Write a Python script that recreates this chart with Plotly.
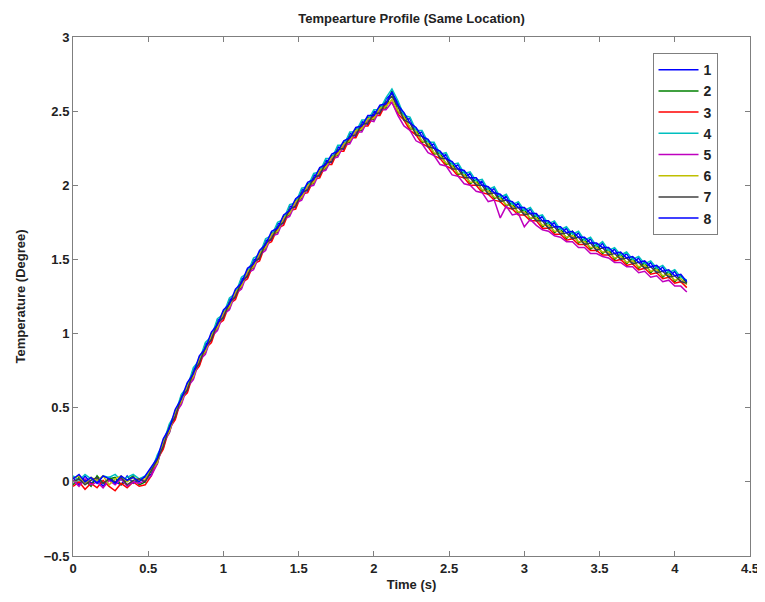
import plotly.graph_objects as go

# time axis (s), sampled every 0.04 s
time_s = [round(i * 0.04, 2) for i in range(103)]

series_names = ["1", "2", "3", "4", "5", "6", "7", "8"]
series_colors = ["rgb(0,0,255)", "rgb(0,128,0)", "rgb(255,0,0)", "rgb(0,191,191)",
                 "rgb(191,0,191)", "rgb(191,191,0)", "rgb(64,64,64)", "rgb(0,0,255)"]

temp_1 = [0.03, -0.02, 0.04, -0.01, 0.02, -0.03, 0.03, 0.00, -0.02, 0.04, -0.01, 0.02,
          0.03, 0.05, 0.17, 0.23, 0.38, 0.43, 0.58, 0.61, 0.76, 0.79, 0.93, 0.95, 1.09, 1.10,
          1.23, 1.24, 1.37, 1.38, 1.50, 1.50, 1.63, 1.63, 1.74, 1.74, 1.86, 1.85, 1.97,
          1.96, 2.07, 2.06, 2.17, 2.15, 2.26, 2.24, 2.35, 2.33, 2.43, 2.41, 2.50, 2.48, 2.58, 2.62,
          2.56, 2.44, 2.45, 2.34, 2.36, 2.26, 2.28, 2.18, 2.21, 2.11, 2.14, 2.05, 2.08,
          2.00, 2.03, 1.94, 1.98, 1.89, 1.93, 1.84, 1.88, 1.80, 1.84, 1.76, 1.79, 1.71,
          1.75, 1.67, 1.71, 1.64, 1.68, 1.60, 1.64, 1.56, 1.61, 1.53, 1.57, 1.50, 1.54,
          1.47, 1.51, 1.44, 1.48, 1.41, 1.45, 1.38, 1.42, 1.35, 1.36]
temp_2 = [-0.02, 0.03, 0.01, -0.03, 0.04, -0.01, 0.02, 0.03, -0.02, 0.01, 0.04, -0.02,
          0.00, 0.09, 0.12, 0.28, 0.33, 0.48, 0.53, 0.66, 0.70, 0.84, 0.87, 1.00, 1.03, 1.15,
          1.17, 1.29, 1.31, 1.43, 1.44, 1.55, 1.57, 1.68, 1.68, 1.79, 1.80, 1.90, 1.91,
          2.01, 2.01, 2.11, 2.11, 2.20, 2.20, 2.29, 2.29, 2.38, 2.37, 2.46, 2.44, 2.53, 2.52, 2.64,
          2.49, 2.48, 2.38, 2.38, 2.29, 2.30, 2.21, 2.22, 2.14, 2.15, 2.07, 2.09, 2.01,
          2.04, 1.96, 1.98, 1.91, 1.93, 1.86, 1.88, 1.81, 1.84, 1.77, 1.80, 1.72, 1.75,
          1.68, 1.71, 1.64, 1.69, 1.61, 1.64, 1.57, 1.60, 1.54, 1.57, 1.50, 1.54, 1.47,
          1.51, 1.44, 1.48, 1.41, 1.45, 1.38, 1.42, 1.35, 1.39, 1.34]
temp_3 = [-0.03, 0.00, -0.05, -0.01, -0.04, 0.01, -0.03, -0.06, -0.01, -0.04, 0.00, -0.03,
          -0.02, 0.04, 0.15, 0.22, 0.36, 0.42, 0.56, 0.60, 0.73, 0.78, 0.90, 0.94, 1.06, 1.09,
          1.20, 1.23, 1.34, 1.37, 1.47, 1.49, 1.60, 1.62, 1.71, 1.73, 1.83, 1.84, 1.94,
          1.95, 2.04, 2.05, 2.14, 2.14, 2.23, 2.23, 2.32, 2.32, 2.40, 2.40, 2.47, 2.47, 2.55, 2.56,
          2.48, 2.44, 2.37, 2.34, 2.28, 2.26, 2.20, 2.18, 2.13, 2.11, 2.06, 2.05, 2.00,
          2.00, 1.95, 1.94, 1.90, 1.89, 1.85, 1.84, 1.80, 1.80, 1.76, 1.76, 1.71, 1.71,
          1.67, 1.67, 1.63, 1.64, 1.60, 1.60, 1.56, 1.56, 1.53, 1.53, 1.49, 1.50, 1.46,
          1.47, 1.43, 1.44, 1.40, 1.41, 1.37, 1.38, 1.34, 1.35, 1.31]
temp_4 = [0.04, 0.01, 0.05, 0.02, 0.00, 0.04, 0.03, 0.05, 0.01, 0.03, 0.05, 0.02,
          0.04, 0.07, 0.18, 0.26, 0.39, 0.46, 0.59, 0.64, 0.77, 0.82, 0.94, 0.98, 1.10, 1.13,
          1.24, 1.27, 1.38, 1.41, 1.51, 1.53, 1.64, 1.66, 1.75, 1.77, 1.87, 1.88, 1.98,
          1.99, 2.08, 2.09, 2.18, 2.18, 2.27, 2.27, 2.36, 2.36, 2.44, 2.44, 2.51, 2.51, 2.59, 2.65,
          2.57, 2.47, 2.46, 2.37, 2.37, 2.29, 2.29, 2.21, 2.22, 2.14, 2.15, 2.08, 2.09,
          2.03, 2.04, 1.97, 1.99, 1.92, 1.94, 1.87, 1.89, 1.83, 1.85, 1.79, 1.80, 1.74,
          1.76, 1.70, 1.72, 1.67, 1.69, 1.63, 1.65, 1.59, 1.62, 1.56, 1.58, 1.53, 1.55,
          1.50, 1.52, 1.47, 1.49, 1.44, 1.46, 1.41, 1.43, 1.38, 1.36]
temp_5 = [0.01, -0.03, 0.02, -0.02, 0.00, -0.04, 0.01, -0.02, 0.02, -0.03, 0.00, -0.01,
          0.01, 0.04, 0.12, 0.26, 0.33, 0.46, 0.52, 0.64, 0.69, 0.82, 0.86, 0.98, 1.02, 1.13,
          1.16, 1.27, 1.30, 1.41, 1.43, 1.53, 1.56, 1.66, 1.67, 1.77, 1.79, 1.88, 1.90,
          1.99, 2.00, 2.09, 2.10, 2.18, 2.19, 2.27, 2.28, 2.36, 2.36, 2.44, 2.43, 2.51, 2.51, 2.56,
          2.47, 2.40, 2.37, 2.30, 2.28, 2.22, 2.20, 2.14, 2.13, 2.07, 2.06, 2.01, 2.00,
          1.96, 1.95, 1.89, 1.90, 1.78, 1.86, 1.80, 1.81, 1.72, 1.77, 1.73, 1.70, 1.69,
          1.66, 1.65, 1.62, 1.62, 1.58, 1.58, 1.54, 1.54, 1.52, 1.51, 1.48, 1.48, 1.45,
          1.45, 1.41, 1.42, 1.38, 1.39, 1.35, 1.36, 1.32, 1.32, 1.28]
temp_6 = [0.02, 0.04, -0.01, 0.03, 0.01, 0.04, -0.02, 0.02, 0.04, 0.00, 0.03, 0.01,
          0.02, 0.08, 0.13, 0.27, 0.34, 0.47, 0.54, 0.65, 0.71, 0.83, 0.88, 0.99, 1.04, 1.14,
          1.18, 1.28, 1.32, 1.42, 1.45, 1.54, 1.58, 1.67, 1.69, 1.78, 1.81, 1.89, 1.92,
          2.00, 2.02, 2.10, 2.12, 2.19, 2.21, 2.28, 2.30, 2.37, 2.38, 2.45, 2.45, 2.52, 2.53, 2.58,
          2.50, 2.46, 2.39, 2.36, 2.30, 2.28, 2.22, 2.20, 2.15, 2.13, 2.08, 2.07, 2.02,
          2.02, 1.97, 1.96, 1.92, 1.91, 1.87, 1.86, 1.82, 1.82, 1.78, 1.78, 1.73, 1.73,
          1.69, 1.69, 1.65, 1.66, 1.62, 1.62, 1.58, 1.58, 1.55, 1.55, 1.51, 1.52, 1.48,
          1.49, 1.45, 1.46, 1.42, 1.43, 1.39, 1.40, 1.36, 1.37, 1.33]
temp_7 = [0.00, 0.02, -0.02, 0.01, 0.03, -0.01, 0.02, 0.00, 0.03, -0.02, 0.01, 0.02,
          0.00, 0.07, 0.15, 0.24, 0.37, 0.44, 0.57, 0.62, 0.74, 0.80, 0.91, 0.96, 1.07, 1.11,
          1.21, 1.25, 1.35, 1.39, 1.48, 1.51, 1.61, 1.64, 1.72, 1.75, 1.84, 1.86, 1.95,
          1.97, 2.05, 2.07, 2.15, 2.16, 2.24, 2.25, 2.33, 2.34, 2.41, 2.42, 2.48, 2.49, 2.56, 2.60,
          2.53, 2.44, 2.42, 2.34, 2.33, 2.26, 2.25, 2.18, 2.18, 2.11, 2.11, 2.05, 2.05,
          2.00, 2.00, 1.94, 1.95, 1.89, 1.90, 1.84, 1.85, 1.80, 1.81, 1.76, 1.76, 1.71,
          1.72, 1.67, 1.68, 1.64, 1.65, 1.60, 1.61, 1.56, 1.58, 1.53, 1.54, 1.50, 1.51,
          1.47, 1.48, 1.44, 1.45, 1.41, 1.42, 1.38, 1.39, 1.35, 1.34]
temp_8 = [0.02, 0.05, 0.00, 0.03, -0.01, 0.04, 0.02, -0.01, 0.04, 0.01, 0.03, 0.00,
          0.04, 0.10, 0.16, 0.29, 0.36, 0.49, 0.56, 0.67, 0.73, 0.85, 0.90, 1.01, 1.06, 1.16,
          1.20, 1.30, 1.34, 1.44, 1.47, 1.56, 1.60, 1.69, 1.71, 1.80, 1.83, 1.91, 1.94,
          2.02, 2.04, 2.12, 2.14, 2.21, 2.23, 2.30, 2.32, 2.39, 2.40, 2.47, 2.47, 2.54, 2.55, 2.63,
          2.54, 2.49, 2.42, 2.39, 2.33, 2.31, 2.25, 2.23, 2.18, 2.16, 2.11, 2.10, 2.05,
          2.05, 2.00, 1.99, 1.95, 1.94, 1.90, 1.89, 1.85, 1.85, 1.81, 1.81, 1.76, 1.76,
          1.72, 1.72, 1.68, 1.69, 1.65, 1.65, 1.61, 1.61, 1.58, 1.58, 1.54, 1.55, 1.51,
          1.52, 1.48, 1.49, 1.45, 1.46, 1.42, 1.43, 1.39, 1.40, 1.35]

all_series = [temp_1, temp_2, temp_3, temp_4, temp_5, temp_6, temp_7, temp_8]

x_ticks = [0, 0.5, 1, 1.5, 2, 2.5, 3, 3.5, 4, 4.5]
x_tick_labels = ["0", "0.5", "1", "1.5", "2", "2.5", "3", "3.5", "4", "4.5"]
y_ticks = [-0.5, 0, 0.5, 1, 1.5, 2, 2.5, 3]
y_tick_labels = ["\u22120.5", "0", "0.5", "1", "1.5", "2", "2.5", "3"]

FONT = "Liberation Sans, Arial, Helvetica, sans-serif"

fig = go.Figure()
for name, color, vals in zip(series_names, series_colors, all_series):
    n = min(len(vals), len(time_s))
    fig.add_trace(go.Scatter(x=time_s[:n], y=vals[:n], mode="lines", name=name,
                             line=dict(color=color, width=1.5)))

axis_common = dict(showgrid=False, zeroline=False, showline=True, linecolor="#7f7f7f",
                   linewidth=1, mirror="ticks", ticks="inside", ticklen=5,
                   tickcolor="#7f7f7f",
                   tickfont=dict(family=FONT, size=13, color="#222", weight="bold"))

fig.update_layout(
    width=765, height=602,
    paper_bgcolor="white", plot_bgcolor="white",
    margin=dict(l=65, r=23, t=29, b=54, autoexpand=False),
    title=dict(text="<b>Tempearture Profile (Same Location)</b>", xref="paper", x=0.5,
               xanchor="center", yref="container", y=0.983, yanchor="middle",
               font=dict(family=FONT, size=13, color="#222")),
    xaxis=dict(range=[0, 4.5], tickvals=x_ticks, ticktext=x_tick_labels,
               title=dict(text="<b>Time (s)</b>", standoff=5,
                          font=dict(family=FONT, size=13, color="#222")),
               automargin=False, **axis_common),
    yaxis=dict(range=[-0.5, 3], tickvals=y_ticks, ticktext=y_tick_labels,
               title=dict(text="<b>Temperature (Degree)</b>", standoff=15,
                          font=dict(family=FONT, size=13, color="#222")),
               automargin=False, **axis_common),
    legend=dict(x=0.856, y=0.969, xanchor="left", yanchor="top",
                bordercolor="#7f7f7f", borderwidth=1, bgcolor="white",
                font=dict(family=FONT, size=14, color="#222", weight="bold"),
                itemwidth=40, tracegroupgap=0),
    showlegend=True,
)

fig.write_html("out.html")
